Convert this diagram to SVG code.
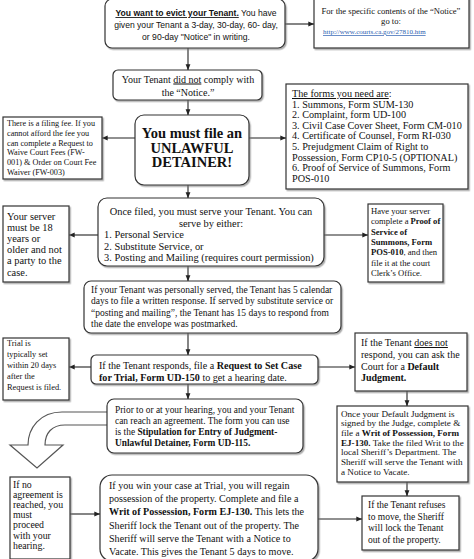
<svg xmlns="http://www.w3.org/2000/svg" width="474" height="559" viewBox="0 0 474 559">
<defs>
<style>
.bx{fill:#fff;stroke:#333;stroke-width:1.2;filter:url(#ds)}
.t{font-family:"Liberation Serif","Times New Roman",serif;fill:#111}
.s{font-family:"Liberation Sans",Arial,sans-serif;fill:#111}
.b{font-weight:bold}
.u{text-decoration:underline}
.c{text-anchor:middle}
.ln{fill:none;stroke:#222;stroke-width:1.1;marker-end:url(#ah)}
.blk{fill:#fff;stroke:#555;stroke-width:1.2}
.lk{fill:#2a5db0;text-decoration:underline}
</style>
<filter id="ds" x="-10%" y="-10%" width="120%" height="130%">
<feDropShadow dx="1.3" dy="1.5" stdDeviation="0.7" flood-color="#777" flood-opacity="0.6"/>
</filter>
<marker id="ah" viewBox="0 0 10 10" refX="9.5" refY="5" markerWidth="6" markerHeight="6" markerUnits="userSpaceOnUse" orient="auto">
<path d="M0,1 L10,5 L0,9 z" fill="#222"/>
</marker>
</defs>
<rect width="474" height="559" fill="#fff"/>

<g id="connectors">
<path class="ln" d="M285,24 H314"/>
<path class="ln" d="M188,48 V70"/>
<path class="ln" d="M188,100 V115"/>
<path class="ln" d="M135,138 H102"/>
<path class="ln" d="M249,138 H286"/>
<path class="ln" d="M188,185 V198"/>
<path class="ln" d="M98,235 H69"/>
<path class="ln" d="M324,235 H368"/>
<path class="ln" d="M188,266 V281"/>
<path class="ln" d="M188,333 V355"/>
<path class="ln" d="M91,367 H69"/>
<path class="ln" d="M318,367 H355"/>
<path class="ln" d="M188,384 V399"/>
<path class="ln" d="M407,391 V406"/>
<path class="ln" d="M407,482 V496"/>
<path class="ln" d="M70,514 H100"/>
<path class="ln" d="M318,519 H362"/>
<path id="curved-arrow" class="blk" d="M107,412 L62,412 C40,412 28,428 28,445 L10,445 L37,468 L63,445 L45,445 C45,433 52,425 65,425 L107,425"/>
</g>

<g id="n-evict">
<rect class="bx" x="105" y="-1" width="180" height="49" rx="7"/>
<text class="s c" font-size="8.6" x="196"><tspan x="196" y="16"><tspan class="b u">You want to evict your Tenant.</tspan> You have</tspan><tspan x="196" y="28">given your Tenant a 3-day, 30-day, 60- day,</tspan><tspan x="196" y="40">or 90-day "Notice" in writing.</tspan></text>
</g>

<g id="n-notice-info">
<rect class="bx" x="314" y="-3" width="155" height="51"/>
<text class="t c" font-size="8.6"><tspan x="391" y="14">For the specific contents of the “Notice”</tspan><tspan x="391" y="24">go to:</tspan></text>
<text class="t lk" font-size="7" x="323" y="34">http://www.courts.ca.gov/27810.htm</text>
</g>

<g id="n-comply">
<rect class="bx" x="113" y="70" width="149" height="30" rx="5"/>
<text class="t c" font-size="10"><tspan x="188" y="82.5">Your Tenant <tspan class="u">did not</tspan> comply with</tspan><tspan x="188" y="96">the “Notice.”</tspan></text>
</g>

<g id="n-file">
<rect class="bx" x="135" y="115" width="114" height="70" rx="9"/>
<text class="t b c" font-size="14.5"><tspan x="192" y="138">You must file an</tspan><tspan x="192" y="152.5">UNLAWFUL</tspan><tspan x="192" y="167">DETAINER!</tspan></text>
</g>

<g id="n-fee">
<rect class="bx" x="3" y="117" width="99" height="62"/>
<text class="t" font-size="8.2"><tspan x="7" y="126">There is a filing fee. If you</tspan><tspan x="7" y="135.8">cannot afford the fee you</tspan><tspan x="7" y="145.6">can complete a Request to</tspan><tspan x="7" y="155.4">Waive Court Fees (FW-</tspan><tspan x="7" y="165.2">001) &amp; Order on Court Fee</tspan><tspan x="7" y="175">Waiver (FW-003)</tspan></text>
</g>

<g id="n-forms">
<rect class="bx" x="286" y="84" width="182" height="105"/>
<text class="t" font-size="10.2"><tspan x="292" y="97"><tspan class="u">The forms you need are</tspan>:</tspan><tspan x="292" y="107.6">1. Summons, Form SUM-130</tspan><tspan x="292" y="118.2">2. Complaint, form UD-100</tspan><tspan x="292" y="128.8">3. Civil Case Cover Sheet, Form CM-010</tspan><tspan x="292" y="139.4">4. Certificate of Counsel, Form RI-030</tspan><tspan x="292" y="150">5. Prejudgment Claim of Right to</tspan><tspan x="292" y="160.6">Possession, Form CP10-5 (OPTIONAL)</tspan><tspan x="292" y="171.2">6. Proof of Service of Summons, Form</tspan><tspan x="292" y="181.8">POS-010</tspan></text>
</g>

<g id="n-serve">
<rect class="bx" x="98" y="198" width="226" height="68" rx="9"/>
<text class="t" font-size="10.4"><tspan class="c" x="211" y="215">Once filed, you must serve your Tenant. You can</tspan><tspan class="c" x="211" y="226.5">serve by either:</tspan><tspan x="104" y="238">1. Personal Service</tspan><tspan x="104" y="249.5">2. Substitute Service, or</tspan><tspan x="104" y="261">3. Posting and Mailing (requires court permission)</tspan></text>
</g>

<g id="n-server">
<rect class="bx" x="3" y="206" width="66" height="76"/>
<text class="t" font-size="10.4"><tspan x="7" y="219.5">Your server</tspan><tspan x="7" y="230.7">must be 18</tspan><tspan x="7" y="241.9">years or</tspan><tspan x="7" y="253.1">older and not</tspan><tspan x="7" y="264.3">a party to the</tspan><tspan x="7" y="275.5">case.</tspan></text>
</g>

<g id="n-proof">
<rect class="bx" x="368" y="204" width="75" height="78"/>
<text class="t" font-size="8.6"><tspan x="371" y="214">Have your server</tspan><tspan x="371" y="224.3">complete a <tspan class="b">Proof of</tspan></tspan><tspan class="b" x="371" y="234.6">Service of</tspan><tspan class="b" x="371" y="244.9">Summons, Form</tspan><tspan x="371" y="255.2"><tspan class="b">POS-010</tspan>, and then</tspan><tspan x="371" y="265.5">file it at the court</tspan><tspan x="371" y="275.8">Clerk’s Office.</tspan></text>
</g>

<g id="n-response">
<rect class="bx" x="84" y="281" width="257" height="52" rx="7"/>
<text class="t" font-size="9.5"><tspan x="91" y="292.5">If your Tenant was personally served, the Tenant has 5 calendar</tspan><tspan x="91" y="304">days to file a written response. If served by substitute service or</tspan><tspan x="91" y="315.5">“posting and mailing”, the Tenant has 15 days to respond from</tspan><tspan x="91" y="327">the date the envelope was postmarked.</tspan></text>
</g>

<g id="n-trial">
<rect class="bx" x="3" y="338" width="66" height="62"/>
<text class="t" font-size="8.4"><tspan x="7" y="346">Trial is</tspan><tspan x="7" y="357">typically set</tspan><tspan x="7" y="368">within 20 days</tspan><tspan x="7" y="379">after the</tspan><tspan x="7" y="390">Request is filed.</tspan></text>
</g>

<g id="n-request">
<rect class="bx" x="91" y="355" width="227" height="29" rx="5"/>
<text class="t" font-size="10.1"><tspan x="99" y="369">If the Tenant responds, file a <tspan class="b">Request to Set Case</tspan></tspan><tspan x="99" y="381"><tspan class="b">for Trial, Form UD-150</tspan> to get a hearing date.</tspan></text>
</g>

<g id="n-noresp">
<rect class="bx" x="355" y="333" width="112" height="58"/>
<text class="t" font-size="10"><tspan x="361" y="346">If the Tenant <tspan class="u">does not</tspan></tspan><tspan x="361" y="358">respond, you can ask the</tspan><tspan x="361" y="370">Court for a <tspan class="b">Default</tspan></tspan><tspan class="b" x="361" y="381">Judgment.</tspan></text>
</g>

<g id="n-agree">
<rect class="bx" x="107" y="399" width="196" height="54" rx="7"/>
<text class="t" font-size="9.4"><tspan x="115" y="413">Prior to or at your hearing, you and your Tenant</tspan><tspan x="115" y="424">can reach an agreement. The form you can use</tspan><tspan x="115" y="435">is the <tspan class="b">Stipulation for Entry of Judgment-</tspan></tspan><tspan class="b" x="115" y="445.5">Unlawful Detainer, Form UD-115.</tspan></text>
</g>

<g id="n-default">
<rect class="bx" x="337" y="406" width="131" height="76"/>
<text class="t" font-size="9.1"><tspan x="341" y="416.5">Once your Default Judgment is</tspan><tspan x="341" y="426.2">signed by the Judge, complete &amp;</tspan><tspan x="341" y="435.9">file a <tspan class="b">Writ of Possession, Form</tspan></tspan><tspan x="341" y="445.6"><tspan class="b">EJ-130.</tspan> Take the filed Writ to the</tspan><tspan x="341" y="455.3">local Sheriff’s Department. The</tspan><tspan x="341" y="465">Sheriff will serve the Tenant with</tspan><tspan x="341" y="474.7">a Notice to Vacate.</tspan></text>
</g>

<g id="n-noagree">
<rect class="bx" x="10" y="477" width="60" height="82"/>
<text class="t" font-size="9.8"><tspan x="13" y="488">If no</tspan><tspan x="13" y="498.1">agreement is</tspan><tspan x="13" y="508.2">reached, you</tspan><tspan x="13" y="518.3">must</tspan><tspan x="13" y="528.4">proceed</tspan><tspan x="13" y="538.5">with your</tspan><tspan x="13" y="548.6">hearing.</tspan></text>
</g>

<g id="n-win">
<rect class="bx" x="100" y="475" width="218" height="86" rx="12"/>
<text class="t" font-size="10.1"><tspan x="109" y="489">If you win your case at Trial, you will regain</tspan><tspan x="109" y="502.2">possession of the property. Complete and file a</tspan><tspan x="109" y="515.4"><tspan class="b">Writ of Possession, Form EJ-130.</tspan> This lets the</tspan><tspan x="109" y="528.6">Sheriff lock the Tenant out of the property. The</tspan><tspan x="109" y="541.8">Sheriff will serve the Tenant with a Notice to</tspan><tspan x="109" y="555">Vacate. This gives the Tenant 5 days to move.</tspan></text>
</g>

<g id="n-lockout">
<rect class="bx" x="362" y="496" width="97" height="54"/>
<text class="t" font-size="9.5"><tspan x="368" y="508">If the Tenant refuses</tspan><tspan x="368" y="519.5">to move, the Sheriff</tspan><tspan x="368" y="531">will lock the Tenant</tspan><tspan x="368" y="542.5">out of the property.</tspan></text>
</g>
</svg>
